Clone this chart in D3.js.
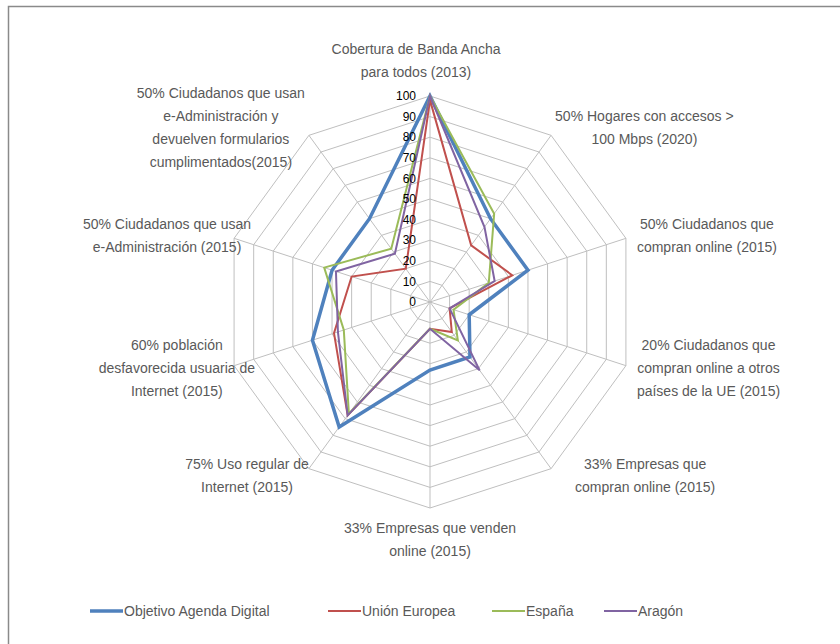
<!DOCTYPE html>
<html><head><meta charset="utf-8">
<script src="https://cdn.jsdelivr.net/npm/d3@7"></script>
<style>
html,body{margin:0;padding:0;background:#fff;}
text{font-family:"Liberation Sans",Arial,sans-serif;}
</style></head>
<body>
<svg id="chart" width="840" height="644"></svg>
<script>
// ---------- DATA ----------
const categories = [
  ["Cobertura de Banda Ancha", "para todos (2013)"],
  ["50% Hogares con accesos >", "100 Mbps (2020)"],
  ["50% Ciudadanos que", "compran online (2015)"],
  ["20% Ciudadanos que", "compran online a otros", "países de la UE (2015)"],
  ["33% Empresas que", "compran online (2015)"],
  ["33% Empresas que venden", "online (2015)"],
  ["75% Uso regular de", "Internet (2015)"],
  ["60% población", "desfavorecida usuaria de", "Internet (2015)"],
  ["50% Ciudadanos que usan", "e-Administración (2015)"],
  ["50% Ciudadanos que usan", "e-Administración y", "devuelven formularios", "cumplimentados(2015)"]
];
const seriesNames = ["Objetivo Agenda Digital", "Unión Europea", "España", "Aragón"];
const objetivo = [100, 50, 50, 20, 33, 33, 75, 60, 50, 50];
const unionEuropea = [98, 34, 42, 10, 18, 13, 68, 49, 40, 20];
const espana = [100, 53, 30, 12, 23, 13, 67, 44, 54, 32];
const aragon = [100, 45, 33, 10, 41, 13, 68, 47, 48, 29];
const tickValues = [0, 10, 20, 30, 40, 50, 60, 70, 80, 90, 100];

// ---------- STYLE / LAYOUT ----------
const colors = ["#4F81BD", "#C0504D", "#9BBB59", "#8064A2"];
const widths = [3.5, 2, 2, 2];
const labelGap = [0, 4, 11, 11, 24, 0, 0, -21, -17, 4];
const cx = 430, cy = 302, R = 206;
const svg = d3.select("#chart");

// frame
svg.append("rect").attr("x", 8.5).attr("y", 6.5).attr("width", 900).attr("height", 900)
  .attr("fill", "none").attr("stroke", "#8a8a8a").attr("stroke-width", 1.5);

const r = d3.scaleLinear().domain([0, 100]).range([0, R]);
const n = categories.length;
const angle = d3.scaleLinear().domain([0, n]).range([0, 2 * Math.PI]);
const pt = (i, v) => [cx + r(v) * Math.sin(angle(i)), cy - r(v) * Math.cos(angle(i))];

const g = svg.append("g");
// grid rings
tickValues.filter(t => t > 0).forEach(t => {
  g.append("path")
    .attr("d", d3.line()(d3.range(n).map(i => pt(i, t))) + "Z")
    .attr("fill", "none").attr("stroke", "#bfbfbf").attr("stroke-width", 1);
});
// spokes
d3.range(n).forEach(i => {
  const p = pt(i, 100);
  g.append("line").attr("x1", cx).attr("y1", cy).attr("x2", p[0]).attr("y2", p[1])
    .attr("stroke", "#bfbfbf").attr("stroke-width", 1);
});

// series
const allSeries = [objetivo, unionEuropea, espana, aragon];
allSeries.forEach((vals, s) => {
  g.append("path")
    .attr("d", d3.line()(vals.map((v, i) => pt(i, v))) + "Z")
    .attr("fill", "none").attr("stroke", colors[s]).attr("stroke-width", widths[s])
    .attr("stroke-linejoin", "miter");
});

// tick labels
tickValues.forEach(t => {
  g.append("text").attr("x", cx - 14).attr("y", cy - r(t)).attr("dy", "0.35em")
    .attr("text-anchor", "end").attr("font-size", 12).attr("fill", "#000")
    .text(t);
});

// category labels
const lineH = 23;
categories.forEach((lines, i) => {
  const a = angle(i);
  const dx = Math.sin(a), dy = -Math.cos(a);
  const p = pt(i, 100);
  const t = g.append("text").attr("font-size", 14).attr("fill", "#595959").attr("text-anchor", "middle");
  lines.forEach(l => t.append("tspan").text(l));
  let maxW = 0;
  t.selectAll("tspan").each(function () { maxW = Math.max(maxW, this.getComputedTextLength()); });
  const blockH = lines.length * lineH;
  let x, y;
  if (Math.abs(dx) < 0.1) {
    x = p[0] - (dy < 0 ? 14 : 0);
    y = dy < 0 ? p[1] - 12 - blockH / 2 : p[1] + 9 + blockH / 2;
  } else {
    x = p[0] + Math.sign(dx) * (labelGap[i] + maxW / 2);
    y = p[1] + dy * 9;
  }
  t.selectAll("tspan").attr("x", x)
    .attr("y", (d, k) => y - blockH / 2 + lineH * (k + 0.5))
    .attr("dy", "0.35em");
});

// legend
const legendX = [90, 328, 492, 604];
seriesNames.forEach((name, s) => {
  const lx = legendX[s], ly = 611;
  svg.append("line").attr("x1", lx).attr("x2", lx + 33).attr("y1", ly).attr("y2", ly)
    .attr("stroke", colors[s]).attr("stroke-width", widths[s]);
  svg.append("text").attr("x", lx + 34).attr("y", ly).attr("dy", "0.35em")
    .attr("font-size", 14).attr("fill", "#595959").text(name);
});
</script>
</body></html>
